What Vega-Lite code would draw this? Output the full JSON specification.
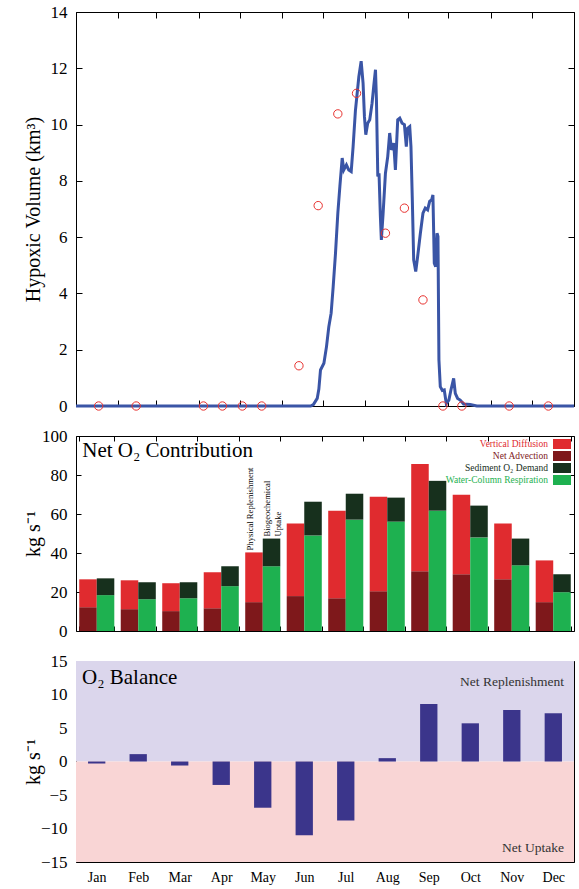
{
  "$schema": "https://vega.github.io/schema/vega-lite/v6.json",
  "background": "white",
  "padding": {"left": 22, "top": 2, "right": 5, "bottom": 5},
  "spacing": 30,
  "bounds": "flush",
  "resolve": {"scale": {"color": "independent"}, "legend": {"color": "independent"}},
  "config": {
    "view": {"stroke": "black", "strokeWidth": 1},
    "font": "Liberation Serif",
    "axis": {
      "labelFont": "Liberation Serif", "titleFont": "Liberation Serif",
      "domain": false, "grid": false, "tickColor": "black", "labelColor": "black",
      "titleColor": "black", "titleFontWeight": "normal", "labelFontSize": 17,
      "titleFontSize": 20, "tickSize": -6, "labelPadding": 15
    },
    "text": {"font": "Liberation Serif"}
  },
  "vconcat": [
    {
      "width": 498, "height": 394,
      "resolve": {"axis": {"x": "independent", "y": "independent"}},
      "layer": [
        {
          "data": {"values": [
            {"day":0,"vol":0},{"day":172,"vol":0},{"day":174,"vol":0.05},{"day":176.8,"vol":0.27},{"day":178,"vol":0.6},{"day":179.2,"vol":1.28},{"day":181.7,"vol":1.52},{"day":183.6,"vol":2.11},{"day":185.3,"vol":2.82},{"day":187.0,"vol":3.3},{"day":188.5,"vol":4.24},{"day":190.2,"vol":5.43},{"day":191.9,"vol":6.85},{"day":193.4,"vol":7.8},{"day":195.1,"vol":8.81},{"day":196.3,"vol":8.39},{"day":198.2,"vol":8.57},{"day":199.9,"vol":8.39},{"day":201.7,"vol":8.33},{"day":203.1,"vol":9.22},{"day":204.8,"vol":10.5},{"day":207.3,"vol":11.7},{"day":209.0,"vol":12.25},{"day":210.4,"vol":11.47},{"day":211.4,"vol":10.29},{"day":212.4,"vol":9.64},{"day":213.8,"vol":10.05},{"day":215.3,"vol":10.17},{"day":217.0,"vol":10.76},{"day":218.2,"vol":11.36},{"day":219.5,"vol":11.95},{"day":220.2,"vol":10.88},{"day":221.2,"vol":8.16},{"day":222.1,"vol":8.27},{"day":223.1,"vol":6.73},{"day":223.8,"vol":5.9},{"day":225.1,"vol":6.85},{"day":226.8,"vol":8.27},{"day":228.5,"vol":8.87},{"day":229.9,"vol":9.7},{"day":231.2,"vol":9.1},{"day":232.9,"vol":9.34},{"day":234.1,"vol":8.39},{"day":235.8,"vol":10.17},{"day":237.3,"vol":10.23},{"day":239.0,"vol":10.05},{"day":240.7,"vol":10.0},{"day":242.1,"vol":9.22},{"day":243.1,"vol":9.87},{"day":244.6,"vol":9.93},{"day":245.5,"vol":9.22},{"day":246.5,"vol":7.33},{"day":247.5,"vol":5.19},{"day":249.0,"vol":4.78},{"day":250.4,"vol":5.31},{"day":252.4,"vol":6.14},{"day":254.3,"vol":6.85},{"day":256.0,"vol":7.03},{"day":257.7,"vol":6.97},{"day":259.2,"vol":7.27},{"day":260.7,"vol":7.33},{"day":261.6,"vol":7.5},{"day":262.6,"vol":5.07},{"day":263.6,"vol":4.95},{"day":264.6,"vol":6.14},{"day":265.3,"vol":6.02},{"day":266.0,"vol":1.64},{"day":267.0,"vol":0.69},{"day":268.5,"vol":0.55},{"day":269.9,"vol":0.57},{"day":271.4,"vol":0.09},{"day":273.3,"vol":0.21},{"day":274.8,"vol":0.57},{"day":276.8,"vol":0.98},{"day":278.0,"vol":0.45},{"day":279.7,"vol":0.27},{"day":281.6,"vol":0.21},{"day":284.1,"vol":0.07},{"day":288.9,"vol":0.05},{"day":293.8,"vol":0},{"day":365,"vol":0}
          ]},
          "mark": {"type": "line", "color": "#3a55a6", "strokeWidth": 3},
          "encoding": {
            "x": {"field": "day", "type": "quantitative", "scale": {"domain": [0, 365], "nice": false},
                  "axis": {"orient": "bottom", "values": [0,31,59,90,120,151,181,212,243,273,304,334,365], "labels": false, "title": null}},
            "y": {"field": "vol", "type": "quantitative", "scale": {"domain": [0, 14], "nice": false},
                  "axis": {"orient": "left", "values": [0,2,4,6,8,10,12,14], "title": "Hypoxic Volume (km³)", "titleX": -43, "titleBaseline": "middle"}}
          }
        },
        {
          "data": {"values": [
            {"day":16.6,"vol":0},{"day":44.1,"vol":0},{"day":93.4,"vol":0},{"day":107.3,"vol":0},{"day":121.9,"vol":0},{"day":136.1,"vol":0},{"day":163.4,"vol":1.43},{"day":177.5,"vol":7.12},{"day":191.9,"vol":10.38},{"day":205.6,"vol":11.11},{"day":226.8,"vol":6.14},{"day":240.7,"vol":7.03},{"day":254.3,"vol":3.77},{"day":268.9,"vol":0},{"day":282.8,"vol":0},{"day":317.5,"vol":0},{"day":346.2,"vol":0}
          ]},
          "mark": {"type": "point", "shape": "circle", "filled": false, "color": "#e8322f", "size": 70, "strokeWidth": 1, "opacity": 1},
          "encoding": {
            "x": {"field": "day", "type": "quantitative",
                  "axis": {"orient": "top", "values": [0,31,59,90,120,151,181,212,243,273,304,334,365], "labels": false, "title": null}},
            "y": {"field": "vol", "type": "quantitative",
                  "axis": {"orient": "right", "values": [0,2,4,6,8,10,12,14], "labels": false, "title": null}}
          }
        }
      ]
    },
    {
      "width": 498, "height": 195,
      "resolve": {"axis": {"x": "independent", "y": "independent"}},
      "layer": [
        {
          "data": {"values": [
            {"m":"Jan","grp":"P","comp":"Net Advection","ord":1,"v":12.2},{"m":"Jan","grp":"P","comp":"Vertical Diffusion","ord":2,"v":14.3},{"m":"Jan","grp":"B","comp":"Water-Column Respiration","ord":1,"v":18.4},{"m":"Jan","grp":"B","comp":"Sediment O₂ Demand","ord":2,"v":8.6},
            {"m":"Feb","grp":"P","comp":"Net Advection","ord":1,"v":11.2},{"m":"Feb","grp":"P","comp":"Vertical Diffusion","ord":2,"v":14.8},{"m":"Feb","grp":"B","comp":"Water-Column Respiration","ord":1,"v":16.3},{"m":"Feb","grp":"B","comp":"Sediment O₂ Demand","ord":2,"v":8.7},
            {"m":"Mar","grp":"P","comp":"Net Advection","ord":1,"v":10.2},{"m":"Mar","grp":"P","comp":"Vertical Diffusion","ord":2,"v":14.3},{"m":"Mar","grp":"B","comp":"Water-Column Respiration","ord":1,"v":16.8},{"m":"Mar","grp":"B","comp":"Sediment O₂ Demand","ord":2,"v":8.2},
            {"m":"Apr","grp":"P","comp":"Net Advection","ord":1,"v":11.7},{"m":"Apr","grp":"P","comp":"Vertical Diffusion","ord":2,"v":18.4},{"m":"Apr","grp":"B","comp":"Water-Column Respiration","ord":1,"v":23.0},{"m":"Apr","grp":"B","comp":"Sediment O₂ Demand","ord":2,"v":10.2},
            {"m":"May","grp":"P","comp":"Net Advection","ord":1,"v":14.8},{"m":"May","grp":"P","comp":"Vertical Diffusion","ord":2,"v":25.5},{"m":"May","grp":"B","comp":"Water-Column Respiration","ord":1,"v":33.2},{"m":"May","grp":"B","comp":"Sediment O₂ Demand","ord":2,"v":14.2},
            {"m":"Jun","grp":"P","comp":"Net Advection","ord":1,"v":17.9},{"m":"Jun","grp":"P","comp":"Vertical Diffusion","ord":2,"v":37.2},{"m":"Jun","grp":"B","comp":"Water-Column Respiration","ord":1,"v":49.0},{"m":"Jun","grp":"B","comp":"Sediment O₂ Demand","ord":2,"v":17.3},
            {"m":"Jul","grp":"P","comp":"Net Advection","ord":1,"v":16.8},{"m":"Jul","grp":"P","comp":"Vertical Diffusion","ord":2,"v":44.9},{"m":"Jul","grp":"B","comp":"Water-Column Respiration","ord":1,"v":57.1},{"m":"Jul","grp":"B","comp":"Sediment O₂ Demand","ord":2,"v":13.3},
            {"m":"Aug","grp":"P","comp":"Net Advection","ord":1,"v":20.4},{"m":"Aug","grp":"P","comp":"Vertical Diffusion","ord":2,"v":48.5},{"m":"Aug","grp":"B","comp":"Water-Column Respiration","ord":1,"v":56.1},{"m":"Aug","grp":"B","comp":"Sediment O₂ Demand","ord":2,"v":12.3},
            {"m":"Sep","grp":"P","comp":"Net Advection","ord":1,"v":30.6},{"m":"Sep","grp":"P","comp":"Vertical Diffusion","ord":2,"v":55.1},{"m":"Sep","grp":"B","comp":"Water-Column Respiration","ord":1,"v":61.7},{"m":"Sep","grp":"B","comp":"Sediment O₂ Demand","ord":2,"v":15.3},
            {"m":"Oct","grp":"P","comp":"Net Advection","ord":1,"v":29.1},{"m":"Oct","grp":"P","comp":"Vertical Diffusion","ord":2,"v":40.8},{"m":"Oct","grp":"B","comp":"Water-Column Respiration","ord":1,"v":48.0},{"m":"Oct","grp":"B","comp":"Sediment O₂ Demand","ord":2,"v":16.3},
            {"m":"Nov","grp":"P","comp":"Net Advection","ord":1,"v":26.5},{"m":"Nov","grp":"P","comp":"Vertical Diffusion","ord":2,"v":28.6},{"m":"Nov","grp":"B","comp":"Water-Column Respiration","ord":1,"v":33.7},{"m":"Nov","grp":"B","comp":"Sediment O₂ Demand","ord":2,"v":13.7},
            {"m":"Dec","grp":"P","comp":"Net Advection","ord":1,"v":14.8},{"m":"Dec","grp":"P","comp":"Vertical Diffusion","ord":2,"v":21.4},{"m":"Dec","grp":"B","comp":"Water-Column Respiration","ord":1,"v":19.9},{"m":"Dec","grp":"B","comp":"Sediment O₂ Demand","ord":2,"v":9.2}
          ]},
          "mark": {"type": "bar"},
          "encoding": {
            "x": {"field": "m", "type": "nominal",
                  "scale": {"domain": ["Jan","Feb","Mar","Apr","May","Jun","Jul","Aug","Sep","Oct","Nov","Dec"], "paddingInner": 0.155, "paddingOuter": 0.078},
                  "axis": {"orient": "bottom", "labels": false, "tickBand": "extent", "title": null, "tickSize": -5}},
            "xOffset": {"field": "grp", "type": "nominal", "scale": {"domain": ["P","B"], "paddingInner": 0, "paddingOuter": 0}},
            "y": {"field": "v", "type": "quantitative", "stack": "zero", "scale": {"domain": [0, 100], "nice": false},
                  "axis": {"orient": "left", "values": [0,20,40,60,80,100], "title": "kg s⁻¹", "titleX": -43, "titleBaseline": "middle", "tickSize": -5, "labelPadding": 14}},
            "color": {"field": "comp", "type": "nominal",
                      "scale": {"domain": ["Vertical Diffusion","Net Advection","Sediment O₂ Demand","Water-Column Respiration"], "range": ["#e02b2f","#7e181b","#17301d","#1eb150"]},
                      "legend": {"orient": "top-right", "offset": 3, "title": null, "symbolType": "M-1.8,-1H1.8V1H-1.8Z", "symbolSize": 100, "symbolStrokeWidth": 0, "symbolOpacity": 1, "labelAlign": "right", "labelOffset": -19, "labelFont": "Liberation Serif", "labelFontSize": 9.5, "rowPadding": 2, "padding": 0, "labelLimit": 300,
                                 "encode": {"labels": {"update": {"fill": {"signal": "datum.value === 'Vertical Diffusion' ? '#e02b2f' : datum.value === 'Net Advection' ? '#7e181b' : datum.value === 'Water-Column Respiration' ? '#1eb150' : '#17301d'"}}}}}},
            "order": {"field": "ord", "type": "quantitative"}
          }
        },
        {
          "data": {"values": [{}]},
          "mark": {"type": "text", "text": "Net O₂ Contribution", "align": "left", "baseline": "middle", "fontSize": 21, "dx": 3, "color": "black"},
          "encoding": {
            "x": {"datum": "Jan", "type": "nominal", "bandPosition": 0,
                  "axis": {"orient": "top", "labels": false, "tickBand": "extent", "title": null, "tickSize": -5}},
            "y": {"datum": 92.3, "type": "quantitative",
                  "axis": {"orient": "right", "values": [0,20,40,60,80,100], "labels": false, "title": null, "tickSize": -5}}
          }
        },
        {
          "data": {"values": [{}]},
          "mark": {"type": "text", "text": "Physical Replenishment", "angle": 270, "align": "left", "baseline": "middle", "fontSize": 8.6, "dx": 2, "dy": -4, "color": "black"},
          "encoding": {
            "x": {"datum": "May", "type": "nominal", "axis": null},
            "xOffset": {"datum": "P", "type": "nominal"},
            "y": {"datum": 40.3, "type": "quantitative", "axis": null}
          }
        },
        {
          "data": {"values": [{}]},
          "mark": {"type": "text", "text": ["Biogeochemical", "Uptake"], "angle": 270, "align": "left", "baseline": "middle", "fontSize": 8.6, "lineHeight": 11, "dx": 2, "dy": -4.5, "color": "black"},
          "encoding": {
            "x": {"datum": "May", "type": "nominal", "axis": null},
            "xOffset": {"datum": "B", "type": "nominal"},
            "y": {"datum": 47.4, "type": "quantitative", "axis": null}
          }
        }
      ]
    },
    {
      "width": 498, "height": 201,
      "resolve": {"axis": {"x": "independent", "y": "independent"}},
      "layer": [
        {
          "data": {"values": [{}]},
          "mark": {"type": "rect", "color": "#dbd6ec"},
          "encoding": {"y": {"datum": 0, "type": "quantitative", "axis": null}, "y2": {"datum": 15}}
        },
        {
          "data": {"values": [{}]},
          "mark": {"type": "rect", "color": "#f9d5d5"},
          "encoding": {"y": {"datum": -15, "type": "quantitative", "axis": null}, "y2": {"datum": 0}}
        },
        {
          "data": {"values": [
            {"m":"Jan","bal":-0.3},{"m":"Feb","bal":1.1},{"m":"Mar","bal":-0.6},{"m":"Apr","bal":-3.5},{"m":"May","bal":-6.9},{"m":"Jun","bal":-11.0},{"m":"Jul","bal":-8.8},{"m":"Aug","bal":0.5},{"m":"Sep","bal":8.6},{"m":"Oct","bal":5.7},{"m":"Nov","bal":7.7},{"m":"Dec","bal":7.2}
          ]},
          "mark": {"type": "bar", "color": "#3b358b"},
          "encoding": {
            "x": {"field": "m", "type": "nominal",
                  "scale": {"domain": ["Jan","Feb","Mar","Apr","May","Jun","Jul","Aug","Sep","Oct","Nov","Dec"], "paddingInner": 0.583, "paddingOuter": 0.29},
                  "axis": {"orient": "bottom", "labelAngle": 0, "tickBand": "extent", "title": null, "tickSize": -5, "labelFontSize": 14, "labelPadding": 13}},
            "y": {"field": "bal", "type": "quantitative", "scale": {"domain": [-15, 15], "nice": false},
                  "axis": {"orient": "left", "values": [-15,-10,-5,0,5,10,15], "title": "kg s⁻¹", "titleX": -43, "titleBaseline": "middle", "tickSize": -5, "labelPadding": 14}}
          }
        },
        {
          "data": {"values": [{}]},
          "mark": {"type": "text", "text": "O₂ Balance", "align": "left", "baseline": "middle", "fontSize": 21, "dx": -6, "color": "black"},
          "encoding": {
            "x": {"datum": "Jan", "type": "nominal", "bandPosition": 0,
                  "axis": {"orient": "top", "labels": false, "tickBand": "extent", "title": null, "tickSize": -5}},
            "y": {"datum": 12.4, "type": "quantitative",
                  "axis": {"orient": "right", "values": [-15,-10,-5,0,5,10,15], "labels": false, "title": null, "tickSize": -5}}
          }
        },
        {
          "data": {"values": [{}]},
          "mark": {"type": "text", "text": "Net Replenishment", "align": "right", "baseline": "middle", "fontSize": 13.5, "dx": 2, "color": "#333333"},
          "encoding": {
            "x": {"datum": "Dec", "type": "nominal", "bandPosition": 1, "axis": null},
            "y": {"datum": 11.85, "type": "quantitative", "axis": null}
          }
        },
        {
          "data": {"values": [{}]},
          "mark": {"type": "text", "text": "Net Uptake", "align": "right", "baseline": "middle", "fontSize": 13.5, "dx": 2, "color": "#333333"},
          "encoding": {
            "x": {"datum": "Dec", "type": "nominal", "bandPosition": 1, "axis": null},
            "y": {"datum": -12.9, "type": "quantitative", "axis": null}
          }
        }
      ]
    }
  ]
}
